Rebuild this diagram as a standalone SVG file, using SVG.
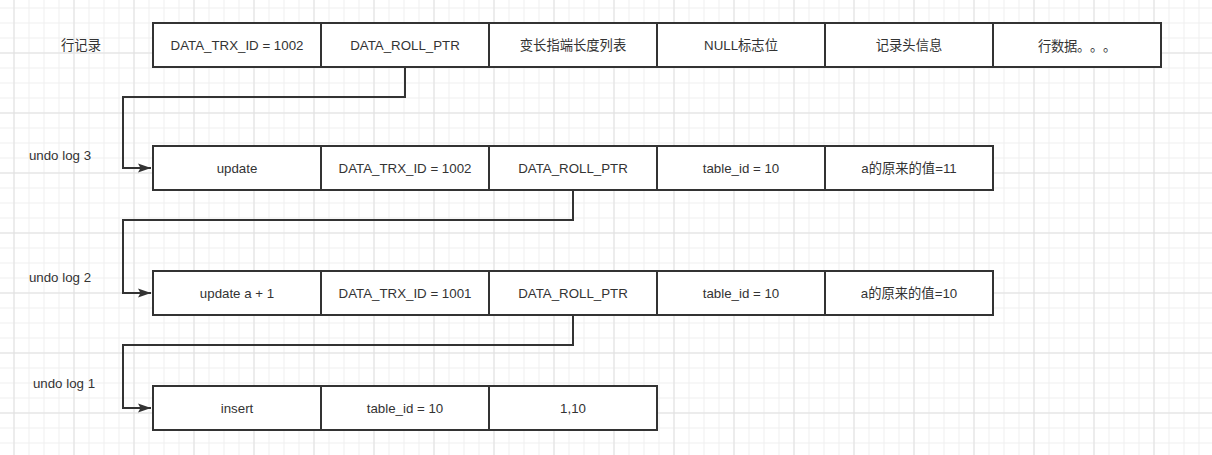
<svg xmlns="http://www.w3.org/2000/svg" width="1212" height="455" viewBox="0 0 1212 455">
<defs>
<pattern id="minor" width="15" height="15" patternUnits="userSpaceOnUse" x="13.5" y="7.5">
<path d="M0,0.5 H15 M0.5,0 V15" fill="none" stroke="#efefef" stroke-width="1"/>
</pattern>
<pattern id="major" width="60" height="60" patternUnits="userSpaceOnUse" x="13.5" y="52.5">
<path d="M0,0.5 H60 M0.5,0 V60" fill="none" stroke="#e0e0e0" stroke-width="1"/>
</pattern>
<marker id="arr" markerWidth="14" markerHeight="10" refX="13" refY="5" orient="auto" markerUnits="userSpaceOnUse">
<path d="M0,0.5 L13,5 L0,9.5 L2.5,5 z" fill="#333"/>
</marker>
<style>
.cell{fill:#fff;stroke:#333;stroke-width:2}
.t{font-family:"Liberation Sans","Noto Sans CJK SC",sans-serif;font-size:13.3px;fill:#333;text-anchor:middle;dominant-baseline:central}
.cjk{font-family:"Noto Sans CJK SC",sans-serif;text-anchor:start}
.conn{fill:none;stroke:#333;stroke-width:2}
</style>
</defs>
<rect width="1212" height="455" fill="#fff"/>
<rect width="1212" height="455" fill="url(#minor)"/>
<rect width="1212" height="455" fill="url(#major)"/>

<g id="label-row"><text class="t" x="81" y="45">行记录</text></g>
<g id="label-undo3"><text class="t" x="60" y="155">undo log 3</text></g>
<g id="label-undo2"><text class="t" x="60" y="277">undo log 2</text></g>
<g id="label-undo1"><text class="t" x="64" y="383">undo log 1</text></g>

<g id="row-record">
<rect class="cell" x="153" y="23" width="168" height="44"/><text class="t" x="237" y="45">DATA_TRX_ID = 1002</text>
<rect class="cell" x="321" y="23" width="168" height="44"/><text class="t" x="405" y="45">DATA_ROLL_PTR</text>
<rect class="cell" x="489" y="23" width="168" height="44"/><text class="t" x="573" y="45">变长指端长度列表</text>
<rect class="cell" x="657" y="23" width="168" height="44"/><text class="t" x="741" y="45">NULL标志位</text>
<rect class="cell" x="825" y="23" width="168" height="44"/><text class="t" x="909" y="45">记录头信息</text>
<rect class="cell" x="993" y="23" width="168" height="44"/><text class="t cjk" x="1038 1051 1064 1077 1090 1103" y="45">行数据。。。</text>
</g>

<g id="undo-log-3">
<rect class="cell" x="153" y="146" width="168" height="44"/><text class="t" x="237" y="168">update</text>
<rect class="cell" x="321" y="146" width="168" height="44"/><text class="t" x="405" y="168">DATA_TRX_ID = 1002</text>
<rect class="cell" x="489" y="146" width="168" height="44"/><text class="t" x="573" y="168">DATA_ROLL_PTR</text>
<rect class="cell" x="657" y="146" width="168" height="44"/><text class="t" x="741" y="168">table_id = 10</text>
<rect class="cell" x="825" y="146" width="168" height="44"/><text class="t" x="909" y="168">a的原来的值=11</text>
</g>

<g id="undo-log-2">
<rect class="cell" x="153" y="271" width="168" height="44"/><text class="t" x="237" y="293">update a + 1</text>
<rect class="cell" x="321" y="271" width="168" height="44"/><text class="t" x="405" y="293">DATA_TRX_ID = 1001</text>
<rect class="cell" x="489" y="271" width="168" height="44"/><text class="t" x="573" y="293">DATA_ROLL_PTR</text>
<rect class="cell" x="657" y="271" width="168" height="44"/><text class="t" x="741" y="293">table_id = 10</text>
<rect class="cell" x="825" y="271" width="168" height="44"/><text class="t" x="909" y="293">a的原来的值=10</text>
</g>

<g id="undo-log-1">
<rect class="cell" x="153" y="386" width="168" height="44"/><text class="t" x="237" y="408">insert</text>
<rect class="cell" x="321" y="386" width="168" height="44"/><text class="t" x="405" y="408">table_id = 10</text>
<rect class="cell" x="489" y="386" width="168" height="44"/><text class="t" x="573" y="408">1,10</text>
</g>

<g id="connectors">
<path class="conn" d="M405,67 V97 H123 V168 H151" marker-end="url(#arr)"/>
<path class="conn" d="M573,190 V220 H123 V293 H151" marker-end="url(#arr)"/>
<path class="conn" d="M573,315 V345 H123 V408 H151" marker-end="url(#arr)"/>
</g>
</svg>
